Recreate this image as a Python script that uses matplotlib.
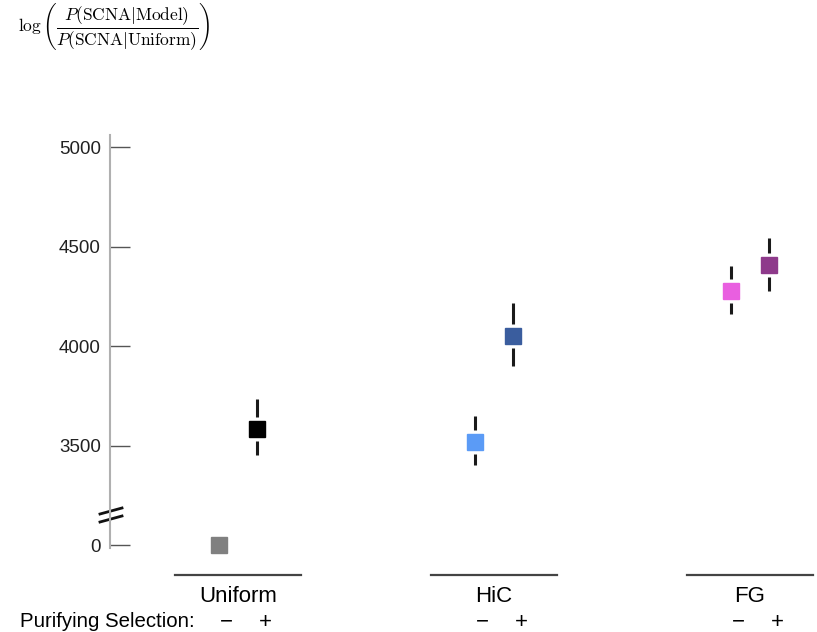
import matplotlib
matplotlib.use("Agg")
import matplotlib.pyplot as plt
import numpy as np

plt.rcParams['font.family'] = ['Liberation Sans', 'DejaVu Sans']
plt.rcParams['mathtext.fontset'] = 'cm'

# ---- data ----
groups = ["Uniform", "HiC", "FG"]
selection = ["\u2212", "+"]
values = [0, 3585, 3520, 4048, 4275, 4405]          # order: Uniform-,Uniform+,HiC-,HiC+,FG-,FG+
err_low = [0, 3450, 3400, 3897, 4163, 4274]
err_high = [0, 3736, 3646, 4214, 4400, 4545]
has_err = [False, True, True, True, True, True]
colors = ["#808080", "#000000", "#5b9bf6", "#3a5d9e", "#e95fe0", "#8e3a8b"]
ytick_vals = [3000, 3500, 4000, 4500, 5000]
ytick_labels = ["0", "3500", "4000", "4500", "5000"]
BREAK = 3000  # value 0 is drawn at this position (broken axis)

def ypos(v):
    return BREAK if v == 0 else v

fig = plt.figure(figsize=(8.17, 6.32), dpi=100)
W, H = 817, 632
ax_left, ax_top, ax_bottom = 110, 60, 632
ax = fig.add_axes([ax_left / W, 1 - ax_bottom / H, 1 - ax_left / W, (ax_bottom - ax_top) / H])

# pixel scale: 500 units ~ 99.5 px
upp = 500 / 99.5
ax.set_ylim(5000 - (ax_bottom - 147) * upp, 5000 + (147 - ax_top) * upp)
ax.set_xlim(-0.5, (817 - 238) / 256)

off = 19 / 256
gap = 12 * upp
xs = []
for gi, g in enumerate(groups):
    for si in range(2):
        xs.append(gi + (-off if si == 0 else off))

for i, (x, v) in enumerate(zip(xs, values)):
    y = ypos(v)
    if has_err[i]:
        ax.plot([x, x], [y + gap, err_high[i]], color="#1a1a1a", lw=2.2, solid_capstyle='butt')
        ax.plot([x, x], [err_low[i], y - gap], color="#1a1a1a", lw=2.2, solid_capstyle='butt')
    ax.plot(x, y, marker='s', ms=11.5, color=colors[i], mec=colors[i], ls='none')

# axes styling
for s in ['top', 'right', 'bottom']:
    ax.spines[s].set_visible(False)
ax.spines['left'].set_color('#b0b0b0')
ax.spines['left'].set_linewidth(1.5)
ax.spines['left'].set_bounds(5000 - (548 - 147) * upp, 5000 + (147 - 135) * upp)
ax.set_xticks([])
ax.set_yticks(ytick_vals)
ax.set_yticklabels(ytick_labels, fontsize=13.5, color='#222222')
ax.tick_params(axis='y', direction='in', length=14.5, width=1, color='#555555', pad=6.5)
for t in ax.yaxis.get_major_ticks():
    t.tick1line.set_marker(matplotlib.lines.TICKRIGHT)

# axis break marks
for yb in [511, 519]:
    yy = 5000 - (yb - 147) * upp
    ax.plot([-0.5 - 10 / 256, -0.5 + 12 / 256], [yy - 3 * upp, yy + 3 * upp],
            color='#111111', lw=2, clip_on=False)

# group lines and labels
yline = 5000 - (575 - 147) * upp
ylab = 5000 - (596 - 147) * upp
ysel = 5000 - (622 - 147) * upp
for gi, g in enumerate(groups):
    ax.plot([gi - 63 / 256, gi + 63 / 256], [yline, yline], color='#444444', lw=1.6, clip_on=False)
    ax.text(gi, ylab, g, ha='center', va='center', fontsize=16)
    ax.text(gi - off + 7 / 256, ysel, selection[0], ha='center', va='center', fontsize=16)
    ax.text(gi + off + 8 / 256, ysel, selection[1], ha='center', va='center', fontsize=16)

ax.text((195 - 238) / 256, 5000 - (621 - 147) * upp, "Purifying Selection:", ha='right', va='center', fontsize=14.7)

fig.text(18 / W, 1 - 27 / H,
         r"$\log\left(\dfrac{P(\mathrm{SCNA}|\mathrm{Model})}{P(\mathrm{SCNA}|\mathrm{Uniform})}\right)$",
         ha='left', va='center', fontsize=12.5)

fig.savefig("out.png", dpi=100)
